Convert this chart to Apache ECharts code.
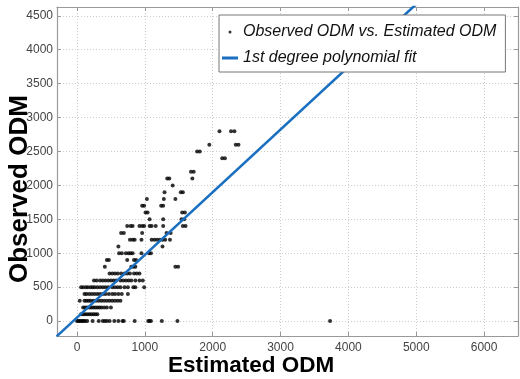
<!DOCTYPE html>
<html>
<head>
<meta charset="utf-8">
<script src="https://cdn.jsdelivr.net/npm/echarts@6/dist/echarts.min.js"></script>
<style>
html,body{margin:0;padding:0;background:#fff;}
#chart{width:520px;height:379px;}
</style>
</head>
<body>
<div id="chart"></div>
<script>
// Observed ODM (y) vs Estimated ODM (x)
const estimatedODM = [
  0,20,40,60,80,100,120,150,230,320,380,410,440,480,550,610,670,690,850,1050,1070,1090,1250,1480,3730,
  60,90,120,150,180,210,240,270,300,
  90,120,150,180,210,240,270,300,330,360,400,440,500,
  40,110,140,170,200,240,280,320,360,400,440,480,520,560,600,640,
  110,140,180,220,260,300,340,380,420,470,520,560,610,660,750,
  60,90,130,160,200,230,260,300,340,380,420,460,520,560,600,640,700,750,830,860,990,
  250,290,340,380,420,460,500,540,580,640,680,720,760,800,860,920,970,
  480,520,560,600,650,700,740,780,840,880,920,
  410,800,830,860,1450,1490,
  440,470,740,840,870,
  620,660,720,760,790,820,950,1060,1090,
  610,1260,
  780,820,850,950,1100,1140,1180,1220,1260,1300,1370,
  650,690,960,1320,1380,
  740,790,820,920,960,990,1070,1100,1160,1270,1560,1600,
  1070,1270,1540,1580,
  1010,1040,1550,1590,
  960,990,1240,1270,
  1030,1280,1450,
  1290,1530,1560,
  1410,
  1330,1360,1700,
  1680,1720,
  2140,2180,
  1770,1810,
  1950,2340,2380,
  2100,2270,2320
];
const observedODM = [
  0,0,0,0,0,0,0,0,0,0,0,0,0,0,0,0,0,0,0,0,0,0,0,0,0,
  100,100,100,100,100,100,100,100,100,
  200,200,200,200,200,200,200,200,200,200,200,200,200,
  300,300,300,300,300,300,300,300,300,300,300,300,300,300,300,300,
  400,400,400,400,400,400,400,400,400,400,400,400,400,400,400,
  500,500,500,500,500,500,500,500,500,500,500,500,500,500,500,500,500,500,500,500,500,
  600,600,600,600,600,600,600,600,600,600,600,600,600,600,600,600,600,
  700,700,700,700,700,700,700,700,700,700,700,
  800,800,800,800,800,800,
  900,900,900,900,900,
  1000,1000,1000,1000,1000,1000,1000,1000,1000,
  1100,1100,
  1200,1200,1200,1200,1200,1200,1200,1200,1200,1200,1200,
  1300,1300,1300,1300,1300,
  1400,1400,1400,1400,1400,1400,1400,1400,1400,1400,1400,1400,
  1500,1500,1500,1500,
  1600,1600,1600,1600,
  1700,1700,1700,1700,
  1800,1800,1800,
  1900,1900,1900,
  2000,
  2100,2100,2100,
  2200,2200,
  2400,2400,
  2500,2500,
  2600,2600,2600,
  2800,2800,2800
];
// 1st degree polynomial fit endpoints
const fitX = [-300, 5200];
const fitY = [-225, 4857];
const xTicks = [0,1000,2000,3000,4000,5000,6000];
const yTicks = [0,500,1000,1500,2000,2500,3000,3500,4000,4500];
const seriesNames = ['Observed ODM vs. Estimated ODM', '1st degree polynomial fit'];
const axisTitles = ['Estimated ODM', 'Observed ODM'];

const scatterData = estimatedODM.map((x, i) => [x, observedODM[i]]);
const fitData = fitX.map((x, i) => [x, fitY[i]]);

const FONT = '"Liberation Sans", Arial, sans-serif';
const gridLine = {show:true, lineStyle:{color:'#cccccc', type:[1,2], width:1}};
const axisLineStyle = {show:true, onZero:false, lineStyle:{color:'#999', width:1.2}};
const plain = v => String(v);

const chart = echarts.init(document.getElementById('chart'), null, {renderer:'canvas'});
chart.setOption({
  animation:false,
  backgroundColor:'#fff',
  grid:{left:57, right:2, top:7, bottom:43, containLabel:false},
  xAxis:[{
    type:'value', min:-295, max:6500, position:'bottom',
    axisLine:axisLineStyle,
    axisTick:{show:true, inside:true, length:4, customValues:xTicks, lineStyle:{color:'#999'}},
    axisLabel:{customValues:xTicks, formatter:plain, color:'#444', fontSize:12, fontFamily:FONT, margin:6},
    splitLine:gridLine
  },{
    type:'value', min:-295, max:6500, position:'top',
    axisLine:axisLineStyle,
    axisTick:{show:true, inside:true, length:4, customValues:xTicks, lineStyle:{color:'#999'}},
    axisLabel:{show:false, customValues:xTicks},
    splitLine:{show:false}
  }],
  yAxis:[{
    type:'value', min:-220, max:4630, position:'left',
    axisLine:axisLineStyle,
    axisTick:{show:true, inside:true, length:4, customValues:yTicks, lineStyle:{color:'#999'}},
    axisLabel:{customValues:yTicks, formatter:plain, color:'#444', fontSize:12, fontFamily:FONT, margin:4},
    splitLine:gridLine
  },{
    type:'value', min:-220, max:4630, position:'right',
    axisLine:axisLineStyle,
    axisTick:{show:true, inside:true, length:4, customValues:yTicks, lineStyle:{color:'#999'}},
    axisLabel:{show:false, customValues:yTicks},
    splitLine:{show:false}
  }],
  legend:{
    orient:'vertical', left:219, top:15, z:20,
    backgroundColor:'#fff', borderColor:'#777', borderWidth:1, borderRadius:0,
    padding:[8,9,5,3], itemGap:8, itemWidth:16, itemHeight:3,
    textStyle:{fontStyle:'italic', fontSize:16, lineHeight:18, color:'#111', fontFamily:FONT},
    data:[{name:seriesNames[0], icon:'circle'}, {name:seriesNames[1], icon:'rect'}]
  },
  graphic:[
    {type:'text', x:168, y:354, z:10,
     style:{text:axisTitles[0], font:'bold 22.5px '+FONT, fill:'#000', textAlign:'left', textVerticalAlign:'top'}},
    {type:'text', x:33, y:283, rotation:Math.PI/2, z:10,
     style:{text:axisTitles[1], font:'bold 26px '+FONT, fill:'#000', textAlign:'left', textVerticalAlign:'bottom'}}
  ],
  series:[
    {name:seriesNames[0], type:'scatter', xAxisIndex:0, yAxisIndex:0, data:scatterData,
     symbol:'circle', symbolSize:4, itemStyle:{color:'#000'}, z:2},
    {name:seriesNames[1], type:'line', xAxisIndex:0, yAxisIndex:0, data:fitData,
     showSymbol:false, symbol:'none', clip:true, lineStyle:{color:'#1a6fc0', width:2.6}, itemStyle:{color:'#1a6fc0'}, z:3}
  ]
});
</script>
</body>
</html>
